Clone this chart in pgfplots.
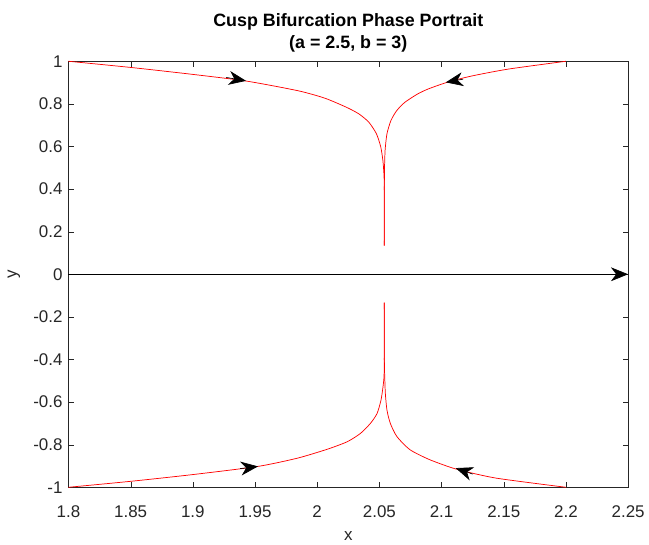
\documentclass[border=0pt]{standalone}
\usepackage{fontspec}
\setmainfont{Liberation Sans}
\usepackage{pgfplots}
\pgfplotsset{compat=1.18}
\usetikzlibrary{arrows.meta,calc}
\definecolor{axgray}{rgb}{0.15,0.15,0.15}
\begin{document}
\begin{tikzpicture}
\begin{axis}[
  scale only axis,
  width=423pt, height=322pt,
  xmin=1.8, xmax=2.25, ymin=-1, ymax=1,
  xtick={1.8,1.85,...,2.26}, ytick={-1,-0.8,...,1.01},
  xticklabels={1.8,1.85,1.9,1.95,2,2.05,2.1,2.15,2.2,2.25},
  yticklabels={-1,-0.8,-0.6,-0.4,-0.2,0,0.2,0.4,0.6,0.8,1},
  /pgf/number format/assume math mode=true,
  tick label style={font=\fontsize{12.8}{14}\selectfont, color=axgray},
  xticklabel style={yshift=-10pt},
  yticklabel style={xshift=-1pt},
  axis line style={axgray, line width=0.5pt},
  major tick style={axgray},
  major tick length=4pt,
  tick align=inside,
  xlabel={x}, ylabel={y},
  xlabel style={yshift=-4pt},
  ylabel style={yshift=3pt},
  label style={font=\fontsize{12.8}{14}\selectfont, color=axgray},
  title={\textbf{Cusp Bifurcation Phase Portrait}\\\textbf{(a = 2.5, b = 3)}},
  title style={font=\fontsize{13.5}{17}\selectfont, align=center, yshift=-3pt},
  clip=false,
]
% top-left branch
\addplot[red, line width=0.55pt, smooth, tension=0.4] coordinates {
(1.8,1) (1.85,0.971) (1.899,0.939) (1.943,0.907) (1.9843,0.862) (2.006,0.827)
(2.0235,0.784) (2.0335,0.753) (2.0415,0.714) (2.0476,0.660) (2.0511,0.598)
(2.0528,0.535) (2.0536,0.476) (2.054,0.40) (2.054,0.134)};
% top-right branch
\addplot[red, line width=0.55pt, smooth, tension=0.4] coordinates {
(2.2,1) (2.1534,0.963) (2.1236,0.930) (2.1044,0.901) (2.0893,0.870) (2.0806,0.846)
(2.0704,0.807) (2.0639,0.768) (2.0593,0.722) (2.0561,0.660) (2.0546,0.582)
(2.0541,0.489) (2.054,0.40) (2.054,0.134)};
% bottom-left branch
\addplot[red, line width=0.55pt, smooth, tension=0.4] coordinates {
(1.8,-1) (1.85,-0.972) (1.899,-0.941) (1.9524,-0.902) (1.9843,-0.863) (2.0083,-0.821)
(2.0242,-0.786) (2.0348,-0.747) (2.0428,-0.700) (2.0481,-0.654) (2.0513,-0.591)
(2.0529,-0.529) (2.0537,-0.483) (2.054,-0.40) (2.054,-0.133)};
% bottom-right branch
\addplot[red, line width=0.55pt, smooth, tension=0.4] coordinates {
(2.2,-1) (2.1439,-0.957) (2.112,-0.915) (2.0907,-0.871) (2.0747,-0.824)
(2.0641,-0.762) (2.0588,-0.700) (2.0561,-0.638) (2.0548,-0.560) (2.0543,-0.48)
(2.054,-0.40) (2.054,-0.133)};
% x axis with arrow
\addplot[black, line width=0.5pt, -{Stealth[length=13pt,width=10.5pt,inset=4pt]}] coordinates {(1.8,0) (2.25,0)};
% direction arrows
\addplot[black, line width=0.5pt, quiver={u=\thisrow{u}, v=\thisrow{v}},
  -{Stealth[length=13pt,width=10.5pt,inset=4pt]}] table {
x y u v
1.9269 0.9240 0.0159 -0.0160
2.1173 0.9160 -0.0139 -0.0150
1.9381 -0.9123 0.0143 0.0103
2.1250 -0.9380 -0.0136 0.0280
};
\end{axis}
\path[use as bounding box] ($(current axis.south west)+(-51.75pt,-39.75pt)$) rectangle ($(current axis.north east)+(12pt,46.3pt)$);
\end{tikzpicture}
\end{document}
